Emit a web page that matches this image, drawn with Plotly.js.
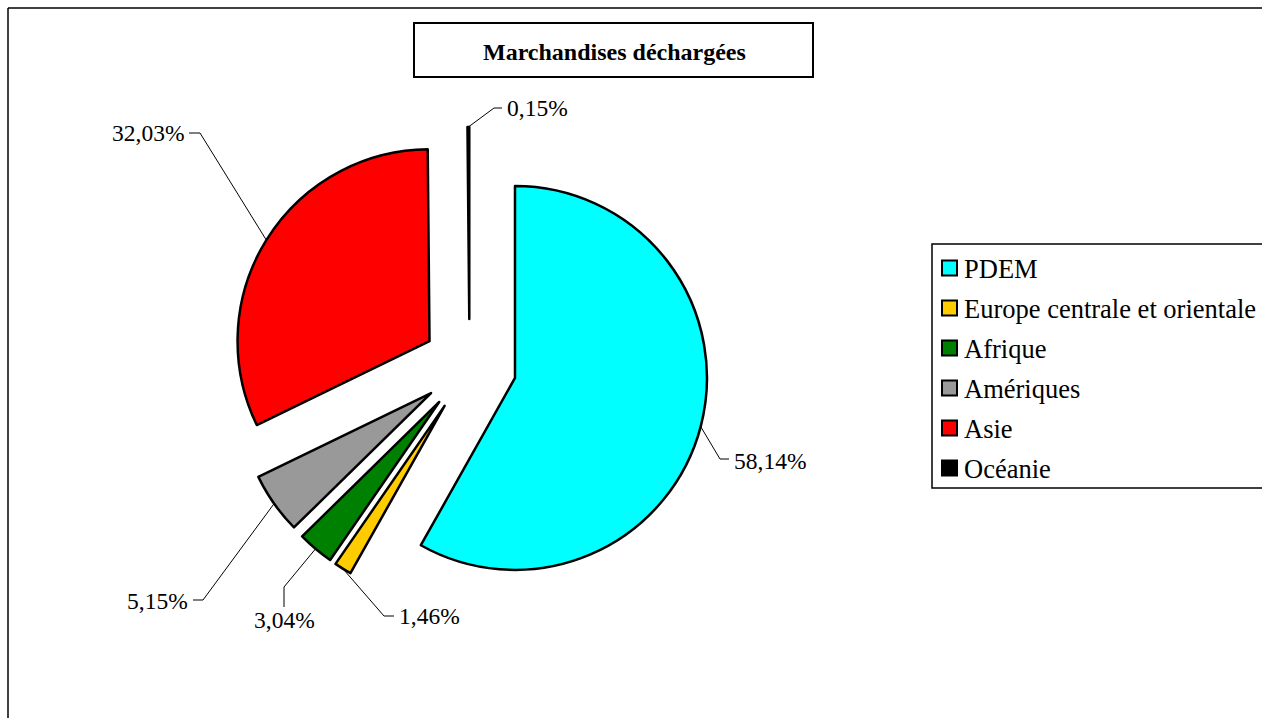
<!DOCTYPE html>
<html>
<head>
<meta charset="utf-8">
<script src="https://cdn.plot.ly/plotly-3.0.1.min.js"></script>
<style>
  html, body { margin: 0; padding: 0; background: #fff; }
  #chart { width: 1262px; height: 718px; }
</style>
</head>
<body>
<div id="chart"></div>
<script>
// data
const regions = ['PDEM', 'Europe centrale et orientale', 'Afrique', 'Amériques', 'Asie', 'Océanie'];
const shares = [58.14, 1.46, 3.04, 5.15, 32.03, 0.15];
const sliceColors = ['#00FFFF', '#FFCC00', '#008000', '#999999', '#FF0000', '#000000'];
const chartTitle = 'Marchandises déchargées';

// layout helpers (pixel -> paper)
const W = 1262, H = 718;
const px = x => x / W;
const py = y => 1 - y / H;

const FONT = 'Liberation Serif';
const pull = 0.245;
const pieBox = { x0: 230.5, x1: 708.5, y0: 127, y1: 605 };

// where each outside label sits (elbow of the leader, text anchor)
const labelSpots = [
  { ex: 720, ey: 459, tx: 732, ty: 461, side: 'right' },
  { ex: 384, ey: 616, tx: 397, ty: 616, side: 'right' },
  { ex: 284, ey: 587, tx: 284, ty: 620, side: 'below' },
  { ex: 203, ey: 600, tx: 190, ty: 601, side: 'left' },
  { ex: 200, ey: 133, tx: 186, ty: 133, side: 'left' },
  { ex: 494, ey: 108, tx: 505, ty: 108, side: 'right' }
];

const fmt = v => v.toFixed(2).replace('.', ',') + '%';

// pie geometry as Plotly computes it
const cx = (pieBox.x0 + pieBox.x1) / 2;
const cy = (pieBox.y0 + pieBox.y1) / 2;
const r = (pieBox.x1 - pieBox.x0) / 2 / (1 + pull);
const total = shares.reduce((a, b) => a + b, 0);

let shapes = [];
let annotations = [];

// outer frame of the chart area
shapes.push({ type: 'line', xref: 'paper', yref: 'paper', x0: px(8), y0: py(8), x1: px(1275), y1: py(8), line: { color: '#000', width: 1.5 } });
shapes.push({ type: 'line', xref: 'paper', yref: 'paper', x0: px(8), y0: py(8), x1: px(8), y1: py(730), line: { color: '#000', width: 1.5 } });

// title box
shapes.push({ type: 'rect', xref: 'paper', yref: 'paper', x0: px(414), y0: py(23), x1: px(813), y1: py(77), line: { color: '#000', width: 2 }, fillcolor: '#fff' });
annotations.push({
  xref: 'paper', yref: 'paper', x: px(614), y: py(52), xanchor: 'center', yanchor: 'middle',
  text: '<b>' + chartTitle + '</b>', showarrow: false, font: { family: FONT, size: 24, color: '#000' }
});

// leader lines and percentage labels
let cum = 0;
shares.forEach((v, i) => {
  const mid = (cum + v / 2) / total * 2 * Math.PI;
  cum += v;
  const dx = Math.sin(mid), dy = -Math.cos(mid);
  const ax = cx + r * (1 + pull) * dx;
  const ay = cy + r * (1 + pull) * dy;
  const s = labelSpots[i];
  let endX = s.ex, endY = s.ey;
  if (s.side === 'right') endX = s.tx - 3;
  else if (s.side === 'left') endX = s.tx + 3;
  else endY = s.ty - 13;
  shapes.push({
    type: 'path', xref: 'paper', yref: 'paper',
    path: `M ${px(ax)} ${py(ay)} L ${px(s.ex)} ${py(s.ey)} L ${px(endX)} ${py(endY)}`,
    line: { color: '#000', width: 1 }
  });
  annotations.push({
    xref: 'paper', yref: 'paper', x: px(s.tx), y: py(s.ty),
    xanchor: s.side === 'right' ? 'left' : (s.side === 'left' ? 'right' : 'center'),
    yanchor: 'middle', text: fmt(v), showarrow: false,
    font: { family: FONT, size: 23.5, color: '#000' }
  });
});

// legend drawn by hand so the row spacing matches
shapes.push({ type: 'rect', xref: 'paper', yref: 'paper', x0: px(932), y0: py(244), x1: px(1275), y1: py(488), line: { color: '#000', width: 1.5 }, fillcolor: '#fff' });
regions.forEach((name, i) => {
  const yc = 268 + i * 40;
  shapes.push({ type: 'rect', xref: 'paper', yref: 'paper', x0: px(942), y0: py(yc - 7.5), x1: px(957), y1: py(yc + 7.5), line: { color: '#000', width: 2 }, fillcolor: sliceColors[i] });
  annotations.push({
    xref: 'paper', yref: 'paper', x: px(962), y: py(yc + 1), xanchor: 'left', yanchor: 'middle',
    text: name, showarrow: false, font: { family: FONT, size: 26.5, color: '#000' }
  });
});

const data = [{
  type: 'pie',
  labels: regions,
  values: shares,
  sort: false,
  direction: 'clockwise',
  rotation: 0,
  pull: shares.map(() => pull),
  marker: { colors: sliceColors, line: { color: '#000', width: 2.5 } },
  textinfo: 'none',
  hoverinfo: 'label+percent',
  showlegend: false,
  domain: { x: [px(pieBox.x0), px(pieBox.x1)], y: [py(pieBox.y1), py(pieBox.y0)] }
}];

const layout = {
  width: W,
  height: H,
  margin: { l: 0, r: 0, t: 0, b: 0 },
  paper_bgcolor: '#fff',
  plot_bgcolor: '#fff',
  showlegend: false,
  shapes: shapes,
  annotations: annotations
};

Plotly.newPlot('chart', data, layout, { displayModeBar: false, staticPlot: true });
</script>
</body>
</html>
